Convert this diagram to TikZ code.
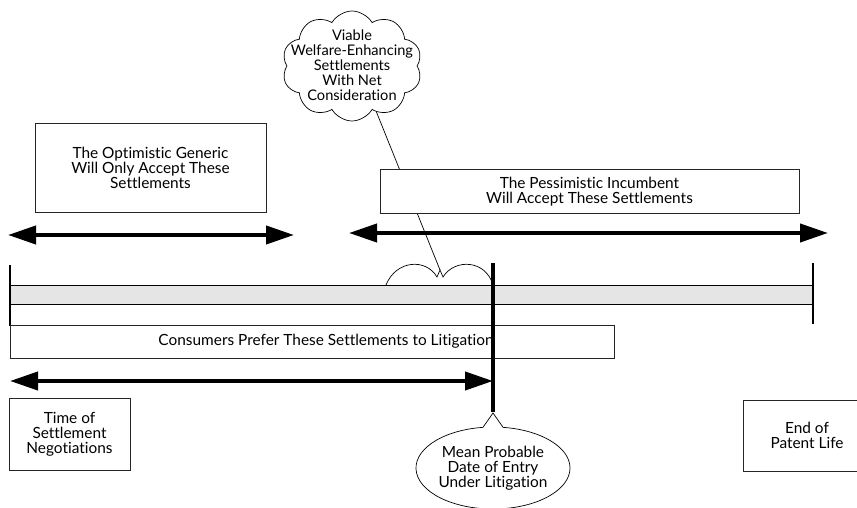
\documentclass[tikz,border=0pt]{standalone}
\usepackage{fontspec}
\setmainfont{Lato}[Ligatures=NoCommon]
\usetikzlibrary{arrows.meta,shapes.symbols,shapes.callouts,shapes.geometric}
\begin{document}
\begin{tikzpicture}[x=1pt,y=-1pt,
  txt/.style={font=\fontsize{15.4}{15}\selectfont, align=center, inner sep=0pt},
  box/.style={txt, draw=black!85, line width=0.9pt, fill=white},
  bigarrow/.style={line width=4pt, {Triangle[length=28pt,width=18pt]}-{Triangle[length=28pt,width=18pt]}},
  tick/.style={line width=2pt},
  thin/.style={line width=0.7pt},
]
\clip (0,0) rectangle (857,508);
\fill[white] (0,0) rectangle (857,508);

% time bar
\node[draw, line width=0.9pt, fill=black!10, minimum width=803pt, minimum height=19pt, inner sep=0pt] (bar) at (411.5,294.5) {};
\coordinate (lt1) at (10,265); \coordinate (lt2) at (10,326);
\coordinate (rt1) at (813,263); \coordinate (rt2) at (813,324);
\draw[tick] (lt1) -- (lt2);
\draw[tick] (rt1) -- (rt2);

% consumers box
\node[box, minimum width=604pt, minimum height=33pt] (cons) at (312,341.5) {};
\node[txt] (conslbl) at (326,341) {Consumers Prefer These Settlements to Litigation};

% scallop and pointer from cloud
\coordinate (sc) at (440,270);
\draw[thin] (386,285) .. controls (396,260) and (426,258) .. (437,277) -- (sc) -- (443,277) .. controls (455,258) and (486,260) .. (493,285);

% cloud
\node[cloud, draw, thin, cloud puffs=10, cloud puff arc=120, cloud ignores aspect,
      minimum width=140pt, minimum height=110pt, inner sep=0pt] (cld) at (352,66) {};
\node[txt, font=\fontsize{14.6}{15}\selectfont] (cldlbl) at (352,65) {Viable\\Welfare-Enhancing\\Settlements\\With Net\\Consideration};
\draw[thin] (cld.-62) -- (sc);

% boxes
\node[box, minimum width=231pt, minimum height=89pt] (opt) at (150.5,167.5)
  {The Optimistic Generic\\Will Only Accept These\\Settlements};
\node[box, minimum width=419pt, minimum height=44pt] (pess) at (589.5,191.5)
  {The Pessimistic Incumbent\\Will Accept These Settlements};

% arrows
\coordinate (a1l) at (8,235); \coordinate (a1r) at (294,235);
\coordinate (a2l) at (349,233); \coordinate (a2r) at (828,233);
\coordinate (a3l) at (10,381); \coordinate (a3r) at (493,381);
\draw[bigarrow] (a1l) -- (a1r);
\draw[bigarrow] (a2l) -- (a2r);
\draw[bigarrow] (a3l) -- (a3r);

% mean probable date
\node[ellipse callout, draw, thin, fill=white, txt, callout absolute pointer={(493,413)},
      minimum width=145pt, minimum height=82pt] (mean) at (493,468)
  {Mean Probable\\Date of Entry\\Under Litigation};
\coordinate (entry) at (493,263);
\draw[line width=3.5pt] (entry) -- (mean.pointer);

% time and end boxes
\node[box, minimum width=121pt, minimum height=72pt] (time) at (69.5,434)
  {Time of\\Settlement\\Negotiations};
\node[box, minimum width=128pt, minimum height=71pt] (endp) at (807,435.5)
  {End of\\Patent Life};
\end{tikzpicture}
\end{document}
